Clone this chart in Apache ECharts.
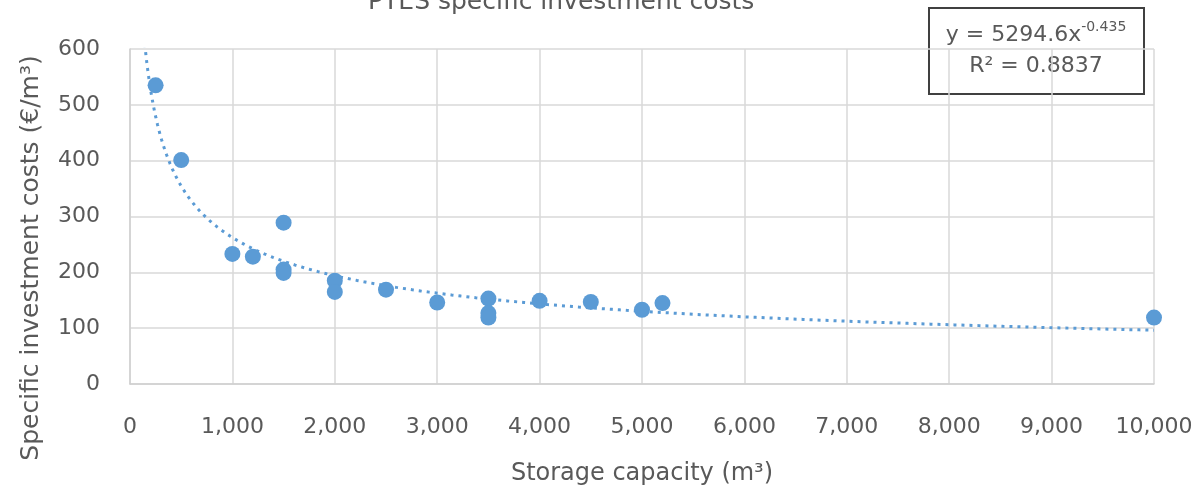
<!DOCTYPE html>
<html>
<head>
<meta charset="utf-8">
<script src="https://cdn.jsdelivr.net/npm/echarts@6/dist/echarts.min.js"></script>
<style>
  html, body { margin: 0; padding: 0; background: #ffffff; }
  #chart { width: 1203px; height: 487px; }
</style>
</head>
<body>
<div id="chart"></div>
<script>
// ---- Data ----
const capacity = [250, 500, 1000, 1200, 1500, 1500, 1500, 2000, 2000, 2500, 3000, 3500, 3500, 3500, 4000, 4500, 5000, 5200, 10000];
const specificCost = [535, 401, 233, 228, 289, 205, 199, 185, 165, 169, 146, 153, 127, 119, 149, 147, 133, 145, 119];

// Power trendline shown on the chart: y = a * x^b
const trendA = 5294.6;
const trendB = -0.435;
const trendR2 = 0.8837;
const trendXStart = 130;
const trendXEnd = 10000;

const yTicks = [0, 100, 200, 300, 400, 500, 600];
const xTicks = [0, 1000, 2000, 3000, 4000, 5000, 6000, 7000, 8000, 9000, 10000];

const titleText = 'PTES specific investment costs';
const xAxisTitle = 'Storage capacity (m³)';
const yAxisTitle = 'Specific investment costs (€/m³)';

// ---- Build ----
const points = capacity.map((x, i) => [x, specificCost[i]]);
const trend = [];
const nSteps = 300;
for (let i = 0; i <= nSteps; i++) {
  const x = trendXStart * Math.pow(trendXEnd / trendXStart, i / nSteps);
  trend.push([x, trendA * Math.pow(x, trendB)]);
}

const FONT = 'DejaVu Sans';
const GREY = '#595959';
const BLUE = '#5B9BD5';

const chart = echarts.init(document.getElementById('chart'), null, { renderer: 'canvas' });
chart.setOption({
  backgroundColor: '#ffffff',
  animation: false,
  grid: { left: 130, right: 49, top: 49, bottom: 103, containLabel: false, outerBoundsMode: 'none' },
  xAxis: {
    type: 'value',
    min: xTicks[0], max: xTicks[xTicks.length - 1], interval: 1000,
    name: xAxisTitle,
    nameLocation: 'middle',
    nameGap: 78,
    nameTextStyle: { fontFamily: FONT, fontSize: 24, color: GREY },
    axisLine: { show: true, lineStyle: { color: '#D0D0D0', width: 1.5 } },
    axisTick: { show: false },
    splitLine: { show: true, lineStyle: { color: '#D9D9D9', width: 1.5 } },
    axisLabel: {
      fontFamily: FONT, fontSize: 22, color: GREY, margin: 32,
      formatter: v => v.toLocaleString('en-US')
    }
  },
  yAxis: {
    type: 'value',
    min: yTicks[0], max: yTicks[yTicks.length - 1], interval: 100,
    axisLine: { show: true, lineStyle: { color: '#D0D0D0', width: 1.5 } },
    axisTick: { show: false },
    splitLine: { show: true, lineStyle: { color: '#D9D9D9', width: 1.5 } },
    axisLabel: { fontFamily: FONT, fontSize: 22, color: GREY, margin: 30 }
  },
  series: [
    {
      type: 'line',
      data: trend,
      showSymbol: false,
      symbol: 'none',
      smooth: false,
      clip: true,
      lineStyle: { color: BLUE, width: 3, type: [3, 5] },
      z: 2
    },
    {
      type: 'scatter',
      data: points,
      symbol: 'circle',
      symbolSize: 16,
      itemStyle: { color: BLUE, opacity: 1 },
      z: 3
    }
  ],
  graphic: [
    {
      type: 'text',
      left: 368,
      top: -10,
      style: { text: titleText, fontFamily: FONT, fontSize: 25, fill: GREY }
    },
    {
      type: 'text',
      x: 31, y: 258,
      rotation: Math.PI / 2,
      style: {
        text: yAxisTitle, fontFamily: FONT, fontSize: 25, fill: GREY,
        align: 'center', verticalAlign: 'middle'
      }
    },
    {
      type: 'group',
      left: 928, top: 7,
      children: [
        {
          type: 'rect',
          shape: { x: 0, y: 0, width: 215, height: 86 },
          style: { fill: '#ffffff', stroke: '#404040', lineWidth: 2 }
        },
        {
          type: 'text',
          x: 107, y: 25,
          style: {
            text: '{b|y = ' + trendA + 'x}{s|' + trendB + '}',
            align: 'center', verticalAlign: 'middle',
            rich: {
              b: { fontFamily: FONT, fontSize: 22, fill: GREY, color: GREY, lineHeight: 26, verticalAlign: 'bottom' },
              s: { fontFamily: FONT, fontSize: 14, fill: GREY, color: GREY, lineHeight: 18, verticalAlign: 'top' }
            }
          }
        },
        {
          type: 'text',
          x: 107, y: 58,
          style: {
            text: 'R² = ' + trendR2,
            fontFamily: FONT, fontSize: 22, fill: GREY,
            align: 'center', verticalAlign: 'middle'
          }
        }
      ]
    }
  ]
});
</script>
</body>
</html>
